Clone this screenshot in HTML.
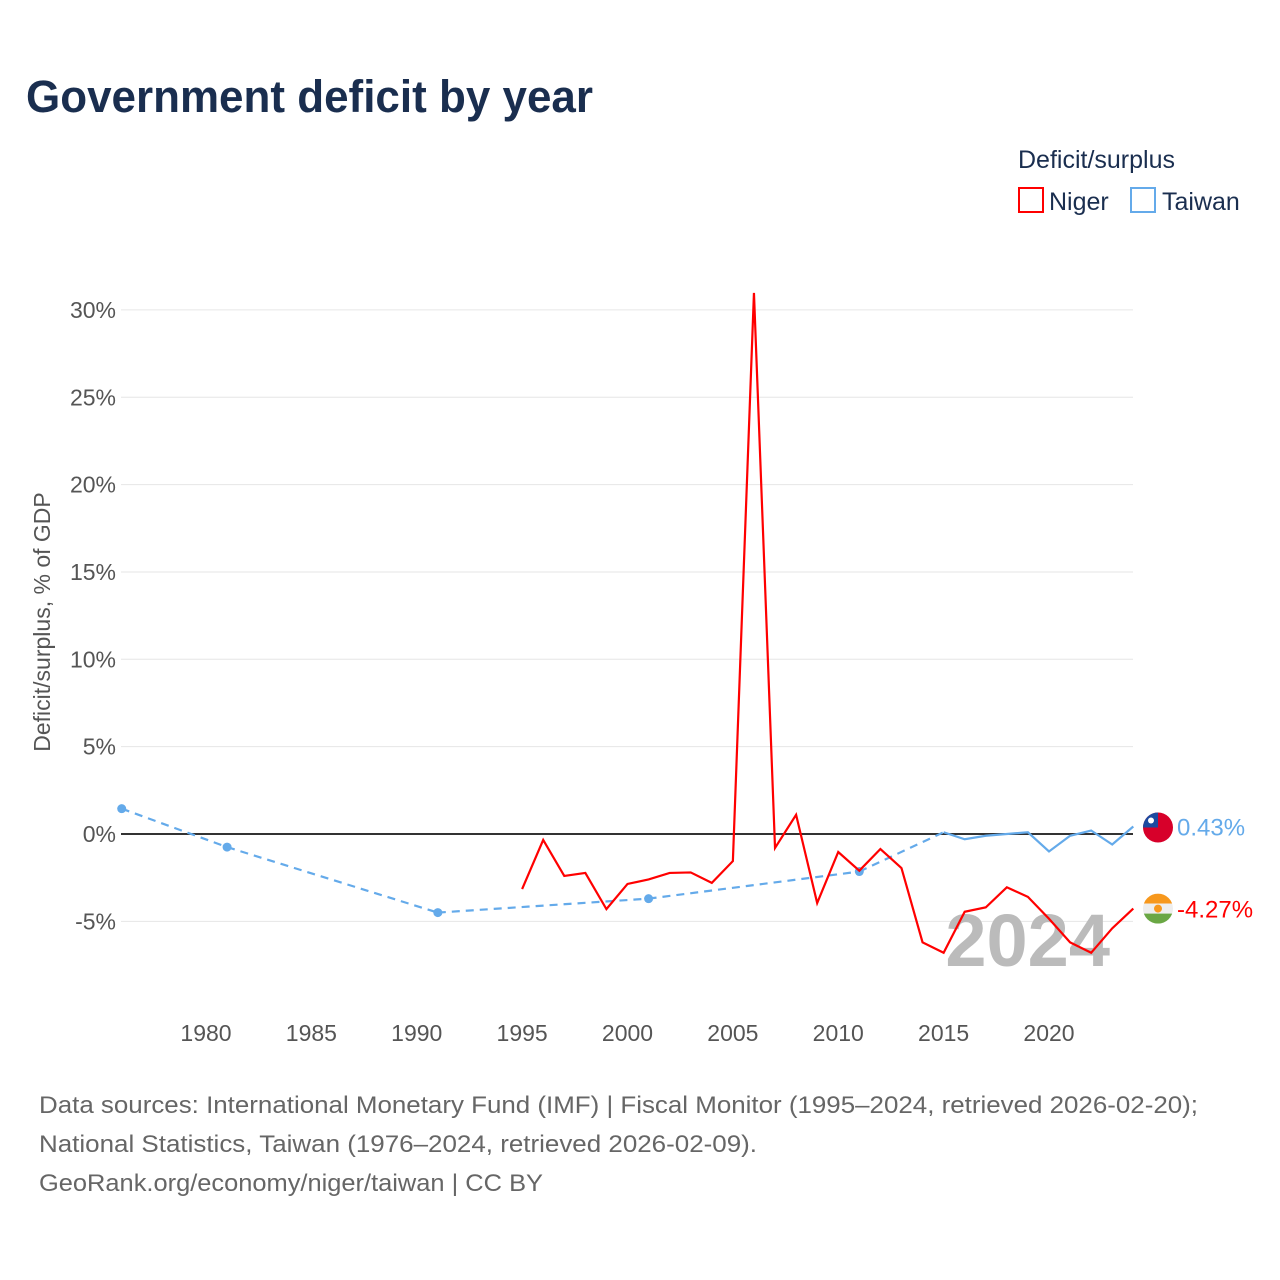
<!DOCTYPE html>
<html><head><meta charset="utf-8"><style>
body{margin:0;background:#fff;font-family:"Liberation Sans",sans-serif;}
#wrap{position:relative;width:1280px;height:1280px;overflow:hidden;}
</style></head><body>
<div id="wrap">
<svg id="chart" width="1280" height="1280">
<text x="26" y="112" font-size="45" font-weight="bold" fill="#1a2e4f" textLength="567" lengthAdjust="spacingAndGlyphs">Government deficit by year</text>
<text x="1018" y="168" font-size="25" fill="#1a2e4f">Deficit/surplus</text>
<rect x="1019" y="188" width="24" height="24" fill="none" stroke="#f00" stroke-width="2"/>
<text x="1049" y="210" font-size="25" fill="#1a2e4f">Niger</text>
<rect x="1131" y="188" width="24" height="24" fill="none" stroke="#64aaea" stroke-width="2"/>
<text x="1162" y="210" font-size="25" fill="#1a2e4f">Taiwan</text>
<text transform="translate(50,622) rotate(-90)" text-anchor="middle" font-size="23" fill="#555">Deficit/surplus, % of GDP</text>
<g id="grid"></g>
<text x="1110" y="966" text-anchor="end" font-size="74" font-weight="bold" fill="#bbb">2024</text>
<g id="series"></g>
<g id="foot" font-size="24" fill="#666">
<text x="39" y="1113" textLength="1159" lengthAdjust="spacingAndGlyphs">Data sources: International Monetary Fund (IMF) | Fiscal Monitor (1995–2024, retrieved 2026-02-20);</text>
<text x="39" y="1152" textLength="718" lengthAdjust="spacingAndGlyphs">National Statistics, Taiwan (1976–2024, retrieved 2026-02-09).</text>
<text x="39" y="1191" textLength="504" lengthAdjust="spacingAndGlyphs">GeoRank.org/economy/niger/taiwan | CC BY</text>
</g>
</svg>
</div>
<script>
const yTicks=[-5,0,5,10,15,20,25,30];
const xTicks=[1980,1985,1990,1995,2000,2005,2010,2015,2020];
const nigerYears=[1995,1996,1997,1998,1999,2000,2001,2002,2003,2004,2005,2006,2007,2008,2009,2010,2011,2012,2013,2014,2015,2016,2017,2018,2019,2020,2021,2022,2023,2024];
const nigerValues=[-3.15,-0.34,-2.4,-2.23,-4.3,-2.86,-2.6,-2.23,-2.2,-2.8,-1.55,30.97,-0.8,1.1,-3.95,-1.03,-2.1,-0.86,-1.95,-6.2,-6.8,-4.45,-4.2,-3.05,-3.6,-4.85,-6.2,-6.8,-5.4,-4.27];
const taiwanYears=[1976,1981,1991,2001,2011,2015,2016,2017,2018,2019,2020,2021,2022,2023,2024];
const taiwanValues=[1.45,-0.75,-4.5,-3.7,-2.15,0.1,-0.3,-0.1,0.0,0.1,-1.0,-0.1,0.2,-0.6,0.43];
const NS="http://www.w3.org/2000/svg";
const X=y=>121.7+(y-1976)*21.075;
const Y=v=>834-v*17.47;
function mk(t,a,p){const e=document.createElementNS(NS,t);for(const k in a)e.setAttribute(k,a[k]);p.appendChild(e);return e;}
const grid=document.getElementById('grid'),ser=document.getElementById('series');
yTicks.forEach(v=>{
 const l=mk('line',{x1:121,x2:1133,y1:Y(v),y2:Y(v),stroke:v===0?'#333':'#e6e6e6','stroke-width':v===0?2:1},grid);
 
 
 const t=mk('text',{x:116,y:Y(v)+8,'text-anchor':'end','font-size':23,fill:'#555'},grid);
 t.textContent=v+'%';
 
 
});
xTicks.forEach(y=>{
 const t=mk('text',{x:X(y),y:1041,'text-anchor':'middle','font-size':23,fill:'#555'},grid);
 t.textContent=y;
 
 
});
function draw(years,vals,color,name){
 let seg=[];const segs=[];
 for(let i=0;i<years.length;i++){
  if(i>0&&years[i]-years[i-1]>1){
   const d=mk('line',{x1:X(years[i-1]),y1:Y(vals[i-1]),x2:X(years[i]),y2:Y(vals[i]),stroke:color,'stroke-width':2.2,'stroke-dasharray':'8 6'},ser);
   
   
   segs.push(seg);seg=[];
  }
  seg.push(i);
 }
 segs.push(seg);
 segs.forEach(s=>{
  if(s.length===1){
   const c=mk('circle',{cx:X(years[s[0]]),cy:Y(vals[s[0]]),r:4.5,fill:color},ser);
   
   
  } else {
   const p=mk('polyline',{points:s.map(i=>X(years[i])+','+Y(vals[i])).join(' '),fill:'none',stroke:color,'stroke-width':2.2,'stroke-linejoin':'miter'},ser);
   
   
  }
 });
 const last=vals[vals.length-1];
 const t=mk('text',{x:1177,y:Y(last)+9,'font-size':24,fill:color},ser);
 t.textContent=last.toFixed(2)+'%';
 
 
 return last;
}
draw(taiwanYears,taiwanValues,'#64aaea','taiwan');
draw(nigerYears,nigerValues,'#f00','niger');
const ty=Y(taiwanValues[taiwanValues.length-1])+1;
const g1=mk('g',{},ser);


mk('circle',{cx:1158,cy:ty,r:15,fill:'#d7002a'},g1);
mk('path',{d:`M1158 ${ty} L1158 ${ty-15} A15 15 0 0 0 1143 ${ty} Z`,fill:'#1c4aa0'},g1);
mk('circle',{cx:1151,cy:ty-7,r:3,fill:'#fff'},g1);
const ny=Y(nigerValues[nigerValues.length-1]);
const g2=mk('g',{},ser);


mk('clipPath',{id:'nc'},g2).appendChild(document.createElementNS(NS,'circle'));
const cc=g2.querySelector('clipPath circle');cc.setAttribute('cx',1158);cc.setAttribute('cy',ny);cc.setAttribute('r',15);
mk('rect',{x:1143,y:ny-15,width:30,height:10,fill:'#f7981d','clip-path':'url(#nc)'},g2);
mk('rect',{x:1143,y:ny-5,width:30,height:10,fill:'#eee','clip-path':'url(#nc)'},g2);
mk('rect',{x:1143,y:ny+5,width:30,height:10,fill:'#6aa744','clip-path':'url(#nc)'},g2);
mk('circle',{cx:1158,cy:ny,r:4,fill:'#f7981d'},g2);
</script>
</body></html>
